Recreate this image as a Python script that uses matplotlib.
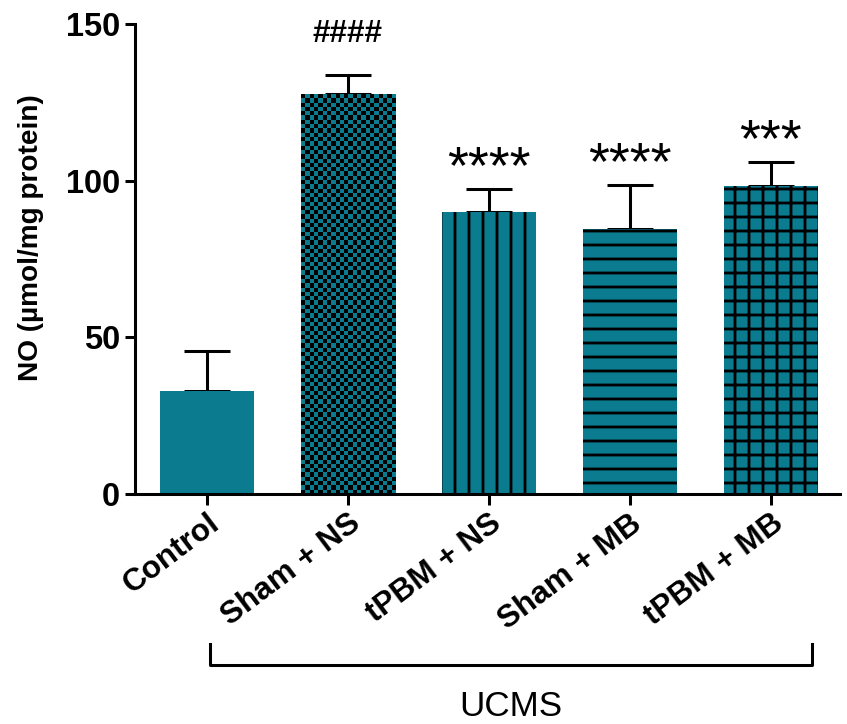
import numpy as np
import matplotlib
matplotlib.use("Agg")
import matplotlib.pyplot as plt

groups = ["Control", "Sham + NS", "tPBM + NS", "Sham + MB", "tPBM + MB"]
means = [33.0, 127.5, 90.0, 84.6, 98.3]
errors = [12.5, 6.3, 7.3, 14.0, 7.6]
marks = ["", "####", "****", "****", "***"]
hatches = ["", "checker", "|", "-", "+"]

TEAL = "#0b7b90"
DPI = 84

plt.rcParams["font.family"] = ["Liberation Sans", "DejaVu Sans"]
plt.rcParams["hatch.linewidth"] = 2.4

fig = plt.figure(figsize=(847 / DPI, 724 / DPI), dpi=DPI)
ax = fig.add_axes([135 / 847, 1 - 494 / 724, 705 / 847, 470 / 724])

x = np.arange(len(groups))
ax.set_xlim(-0.51, 4.49)
ax.set_ylim(0, 150)

bars = []
for xi, m, h in zip(x, means, hatches):
    b = ax.bar(xi, m, width=0.67, color=TEAL, edgecolor="black", linewidth=0,
               hatch=None if h in ("", "checker") else h, zorder=2)[0]
    bars.append(b)

# checkerboard texture for Sham + NS
fig.canvas.draw()
b = bars[hatches.index("checker")]
x0, y0 = b.get_x(), 0
x1, y1 = b.get_x() + b.get_width(), b.get_height()
p0 = ax.transData.transform((x0, y0))
p1 = ax.transData.transform((x1, y1))
nx = int(round((p1[0] - p0[0]) / 4.3))
ny = int(round((p1[1] - p0[1]) / 4.3))
checker = (np.add.outer(np.arange(ny), np.arange(nx)) % 2).astype(float)
cmap = matplotlib.colors.ListedColormap(["black", TEAL])
im = ax.imshow(checker, extent=(x0, x1, y0, y1), cmap=cmap, aspect="auto",
               interpolation="nearest", zorder=2.5)
im.set_clip_path(b)
ax.set_xlim(-0.51, 4.49)
ax.set_ylim(0, 150)

ax.errorbar(x, means, yerr=[np.zeros(len(means)), errors], fmt="none",
            ecolor="black", elinewidth=2.6, capsize=20, capthick=2.6, zorder=1)

for xi, m, e, t in zip(x, means, errors, marks):
    if not t:
        continue
    if t.startswith("#"):
        ax.text(xi, m + e + 10.5, t, ha="center", va="baseline", fontsize=27,
                fontweight="bold")
    else:
        ax.text(xi, m + e + 2, t, ha="center", va="baseline", fontsize=46)

for s in ["top", "right"]:
    ax.spines[s].set_visible(False)
for s in ["left", "bottom"]:
    ax.spines[s].set_linewidth(2.6)

ax.set_yticks([0, 50, 100, 150])
ax.tick_params(axis="both", width=2.6, length=9, labelsize=28)
ax.tick_params(axis="y", pad=4)
for lab in ax.get_yticklabels():
    lab.set_fontweight("bold")
ax.set_xticks(x)
ax.set_xticklabels(groups, rotation=37, ha="right", va="top",
                   rotation_mode="anchor", fontweight="bold", fontsize=27)
ax.set_ylabel("NO (µmol/mg protein)", fontsize=24, fontweight="bold",
              va="center")
ax.yaxis.set_label_coords(-0.147, 0.545)

# UCMS bracket
trans = fig.transFigure
bx0, bx1 = 210 / 847, 812 / 847
by, btop = 1 - 665 / 724, 1 - 644 / 724
fig.add_artist(plt.Line2D([bx0, bx0, bx1, bx1], [btop, by, by, btop],
                          transform=trans, color="black", linewidth=2.6))
fig.text((bx0 + bx1) / 2, 1 - 706 / 724, "UCMS", ha="center", va="center",
         fontsize=30)

fig.savefig("out.png", dpi=DPI)
